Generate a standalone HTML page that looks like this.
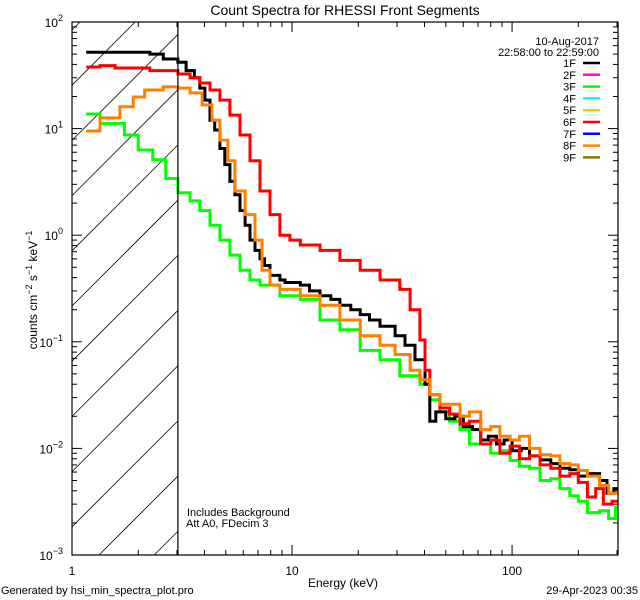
<!DOCTYPE html>
<html><head><meta charset="utf-8"><style>
html,body{margin:0;padding:0;width:640px;height:600px;overflow:hidden;background:#fff;}
svg{display:block;font-family:"Liberation Sans","DejaVu Sans",sans-serif;}
</style></head><body>
<svg id="chart" width="640" height="600" viewBox="0 0 640 600" xmlns="http://www.w3.org/2000/svg">
<rect width="640" height="600" fill="#fff"/>
<text x="345" y="15" font-size="14" text-anchor="middle">Count Spectra for RHESSI Front Segments</text>
<text x="343" y="587" font-size="12" text-anchor="middle">Energy (keV)</text>
<text transform="translate(37,290) rotate(-90)" font-size="12" text-anchor="middle">counts cm<tspan baseline-shift="super" font-size="9">−2</tspan> s<tspan baseline-shift="super" font-size="9">−1</tspan> keV<tspan baseline-shift="super" font-size="9">−1</tspan></text>
<text x="1" y="594" font-size="11">Generated by hsi_min_spectra_plot.pro</text>
<text x="638" y="594" font-size="11" text-anchor="end">29-Apr-2023 00:35</text>
<text x="599" y="45" font-size="11" text-anchor="end">10-Aug-2017</text>
<text x="599" y="56" font-size="11" text-anchor="end">22:58:00 to 22:59:00</text>
<text x="187" y="516" font-size="11">Includes Background</text>
<text x="186" y="527" font-size="11">Att A0, FDecim 3</text>
<defs><clipPath id="plotclip"><rect x="72" y="22" width="546" height="533"/></clipPath></defs>
<g id="hatch"></g>
<g id="series" clip-path="url(#plotclip)"></g>
<g id="axes"></g>
<g id="legend"></g>
</svg>
<script>
const xDomain=[1,303];
const yDomain=[0.001,100];
const xTickMajor=[1,10,100];
const xTickMajorLabels=["1","10","100"];
const xTickMinor=[2,3,4,5,6,7,8,9,20,30,40,50,60,70,80,90,200,300];
const yTickMajor=[0.001,0.01,0.1,1,10,100];
const yTickExp=["-3","-2","-1","0","1","2"];
const thresholdE=3.03;
const legendLabels=["1F","2F","3F","4F","5F","6F","7F","8F","9F"];
const legendColors=["#000","#ff00ff","#00ff00","#00ffff","#d8d800","#ff0000","#0000ff","#ff8000","#808000"];
const endE=303;
const blackE=[1.16,2.26,2.6,3.03,3.3,3.6,3.81,4.02,4.24,4.45,4.7,4.95,5.22,5.5,5.8,6.12,6.44,6.79,7.15,7.5,7.94,8.81,9.29,10.9,12,13.4,15,16.5,18.5,20.4,22.5,25.1,29.4,32.6,36.2,40.2,42.3,45,50,55,60,66,72,78,85,92,100,110,120,134,150,165,183,200,220,250,270,290];
const blackV=[52,50,45,42,35,30,24,18.5,12,9.7,6.5,4.6,3.2,2.4,1.7,1.24,0.9,0.72,0.6,0.52,0.42,0.38,0.36,0.34,0.3,0.27,0.25,0.22,0.2,0.18,0.16,0.14,0.114,0.093,0.068,0.04,0.018,0.022,0.019,0.02,0.016,0.015,0.012,0.013,0.011,0.012,0.0095,0.010,0.0085,0.0078,0.0072,0.0065,0.0063,0.0055,0.0058,0.005,0.0038,0.0042];
const redE=[1.16,1.34,1.57,2.26,3.03,3.44,3.81,4.24,4.7,5.22,5.8,6.44,7.15,7.94,8.81,9.78,10.9,13.4,16.5,20.4,25.1,30.9,34.4,38.1,40.2,42.3,47,52,58,64,72,80,88,98,108,120,134,150,165,183,200,220,240,260,285];
const redV=[37.8,39,37,35,32.5,30,26.8,23,18.5,13.4,8.7,5,2.6,1.56,1.0,0.9,0.81,0.72,0.58,0.47,0.38,0.31,0.2,0.104,0.054,0.032,0.024,0.021,0.017,0.018,0.011,0.012,0.009,0.0105,0.008,0.0085,0.007,0.0065,0.0055,0.0058,0.0048,0.0035,0.0042,0.003,0.0032];
const orangeE=[1.16,1.34,1.65,1.9,2.14,2.6,3.03,3.44,3.9,4.33,4.7,5.11,5.5,6.12,6.79,7.3,7.94,8.81,10.9,13.4,16.5,20.4,25.1,29.4,34.4,38.1,42.3,47,52,58,64,72,80,88,98,108,120,134,150,165,183,200,220,250,275];
const orangeV=[9.5,12.6,16,19.8,23,24.6,24,21.6,16.7,12,7.8,5,2.6,1.56,0.9,0.47,0.34,0.31,0.27,0.22,0.16,0.114,0.093,0.076,0.054,0.044,0.032,0.026,0.026,0.02,0.022,0.015,0.016,0.013,0.012,0.013,0.01,0.0087,0.0085,0.0072,0.007,0.0062,0.0055,0.0045,0.0038];
const greenE=[1.16,1.34,1.73,2.0,2.33,2.67,3.03,3.44,3.81,4.24,4.7,5.22,5.8,6.44,7.15,8.81,10.9,13.4,16.5,20.4,25.1,30.9,38.1,42.3,47,52,58,64,72,80,88,98,108,120,134,150,165,183,200,220,250,275,295];
const greenV=[13.7,11.2,8.7,6.3,5.1,3.4,2.5,2.1,1.7,1.24,0.9,0.65,0.47,0.38,0.34,0.27,0.25,0.16,0.13,0.083,0.068,0.048,0.04,0.0285,0.022,0.018,0.015,0.011,0.011,0.009,0.0095,0.0077,0.0068,0.0065,0.005,0.0052,0.0042,0.0036,0.0032,0.0025,0.0026,0.0022,0.0028];

const NS="http://www.w3.org/2000/svg";
const X0=72,X1=618,Y0=555,Y1=22;
function xs(e){return X0+(X1-X0)*(Math.log10(e)-Math.log10(xDomain[0]))/(Math.log10(xDomain[1])-Math.log10(xDomain[0]));}
function ys(v){return Y0-(Y0-Y1)*(Math.log10(v)-Math.log10(yDomain[0]))/(Math.log10(yDomain[1])-Math.log10(yDomain[0]));}
function mk(tag,attrs,parent){const el=document.createElementNS(NS,tag);for(const k in attrs)el.setAttribute(k,attrs[k]);parent.appendChild(el);return el;}

const hatch=document.getElementById('hatch');
const HX1=xs(thresholdE);
for(let b=30;b<Y0+(HX1-X0);b+=55.2){
  const xa=Math.max(X0,X0+b-Y0), xb=Math.min(HX1,X0+b-Y1);
  if(xb<=xa) continue;
  const l=mk('line',{x1:xa,y1:b-(xa-X0),x2:xb,y2:b-(xb-X0),stroke:'#000','stroke-width':0.8},hatch);
  
  
}

const series=document.getElementById('series');
function stepPath(E,V){
  let d='';
  for(let i=0;i<E.length;i++){
    const x0=xs(E[i]),x1=xs(i+1<E.length?E[i+1]:endE),y=ys(V[i]);
    d+=(i===0?'M':'L')+x0.toFixed(1)+','+y.toFixed(1)+'L'+x1.toFixed(1)+','+y.toFixed(1);
  }
  return d;
}
const sDefs=[['series-3f',greenE,greenV,'#00ff00'],['series-1f',blackE,blackV,'#000'],['series-6f',redE,redV,'#ff0000'],['series-8f',orangeE,orangeV,'#ff8000']];
for(const s of sDefs){
  const p=mk('path',{d:stepPath(s[1],s[2]),fill:'none',stroke:s[3],'stroke-width':3,'stroke-linejoin':'miter'},series);
  
  
}

const axes=document.getElementById('axes');
const frame=mk('rect',{x:X0,y:Y1,width:X1-X0,height:Y0-Y1,fill:'none',stroke:'#000','stroke-width':1.2},axes);


const th=mk('line',{x1:xs(thresholdE),y1:Y1,x2:xs(thresholdE),y2:Y0,stroke:'#000','stroke-width':1.2},axes);


xTickMajor.forEach((e,i)=>{
  const x=xs(e);
  mk('line',{x1:x,y1:Y0,x2:x,y2:Y0-10,stroke:'#000'},axes);
  mk('line',{x1:x,y1:Y1,x2:x,y2:Y1+10,stroke:'#000'},axes);
  const t=mk('text',{x:x,y:Y0+20,'font-size':12,'text-anchor':'middle'},axes);
  t.textContent=xTickMajorLabels[i];
  
  
});
xTickMinor.forEach(e=>{
  const x=xs(e);
  mk('line',{x1:x,y1:Y0,x2:x,y2:Y0-5,stroke:'#000'},axes);
  mk('line',{x1:x,y1:Y1,x2:x,y2:Y1+5,stroke:'#000'},axes);
});
yTickMajor.forEach((v,i)=>{
  const y=ys(v);
  mk('line',{x1:X0,y1:y,x2:X0+10,y2:y,stroke:'#000'},axes);
  mk('line',{x1:X1,y1:y,x2:X1-10,y2:y,stroke:'#000'},axes);
  const t=mk('text',{x:63,y:y+5,'font-size':12,'text-anchor':'end'},axes);
  
  
  t.textContent='10';
  const s=document.createElementNS(NS,'tspan');s.setAttribute('dy','-6');s.setAttribute('font-size','9');s.textContent=yTickExp[i].replace('-','−');t.appendChild(s);
  if(i<yTickMajor.length-1){
    for(let m=2;m<=9;m++){
      const ym=ys(v*m);
      mk('line',{x1:X0,y1:ym,x2:X0+5,y2:ym,stroke:'#000'},axes);
      mk('line',{x1:X1,y1:ym,x2:X1-5,y2:ym,stroke:'#000'},axes);
    }
  }
});

const legend=document.getElementById('legend');
legendLabels.forEach((lab,i)=>{
  const y=63+i*11.8;
  const g=mk('g',{},legend);
  
  
  const t=mk('text',{x:576,y:y+4,'font-size':11,'text-anchor':'end'},g);
  t.textContent=lab;
  mk('line',{x1:583,y1:y,x2:600,y2:y,stroke:legendColors[i],'stroke-width':2.5},g);
});
</script>
</body></html>
